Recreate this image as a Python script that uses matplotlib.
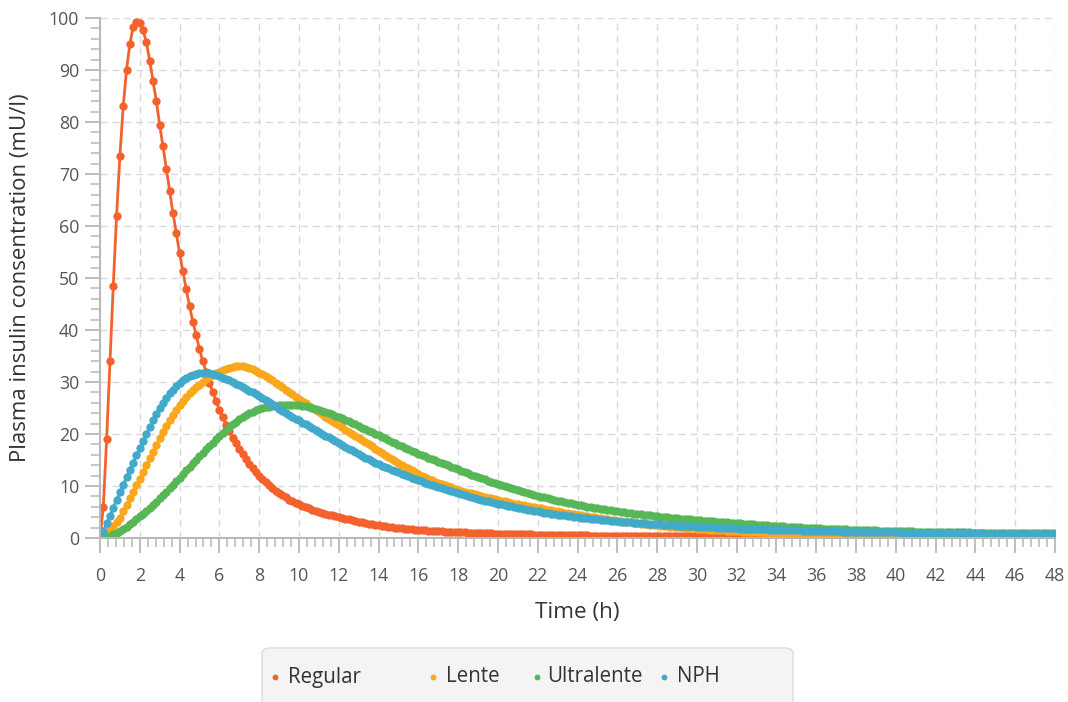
import numpy as np
import matplotlib.pyplot as plt
from matplotlib.patches import FancyBboxPatch
from matplotlib.lines import Line2D

plt.rcParams['font.family'] = ['Open Sans', 'DejaVu Sans']

# one sample every 10 minutes, 0 .. 48 h
hours = np.linspace(0, 48, 289)

# plasma insulin (mU/l), one row per hour (6 samples), last value at 48 h
regular = [
    0, 6.0, 19.0, 34.0, 48.5, 62.0,
    73.5, 83.0, 90.0, 95.0, 98.3, 99.3,
    99.0, 97.6, 95.3, 91.7, 87.9, 84.0,
    79.4, 75.3, 71.0, 66.8, 62.5, 58.6,
    54.8, 51.3, 47.8, 44.6, 41.6, 39.0,
    36.3, 34.0, 31.9, 29.9, 28.0, 26.3,
    24.7, 23.2, 21.8, 20.5, 19.3, 18.2,
    17.1, 16.1, 15.2, 14.3, 13.5, 12.7,
    12.0, 11.3, 10.7, 10.1, 9.6, 9.1,
    8.6, 8.2, 7.8, 7.4, 7.1, 6.8,
    6.5, 6.2, 5.95, 5.7, 5.45, 5.25,
    5.05, 4.85, 4.65, 4.5, 4.35, 4.2,
    4.05, 3.88, 3.72, 3.56, 3.41, 3.27,
    3.13, 3.0, 2.88, 2.76, 2.65, 2.54,
    2.44, 2.34, 2.24, 2.15, 2.06, 1.98,
    1.9, 1.83, 1.76, 1.7, 1.64, 1.59,
    1.54, 1.49, 1.45, 1.41, 1.37, 1.33,
    1.3, 1.26, 1.23, 1.2, 1.17, 1.14,
    1.11, 1.08, 1.06, 1.03, 1.01, 0.98,
    0.96, 0.94, 0.92, 0.9, 0.88, 0.86,
    0.84, 0.82, 0.8, 0.79, 0.77, 0.75,
    0.74, 0.72, 0.71, 0.69, 0.68, 0.67,
    0.65, 0.64, 0.63, 0.62, 0.6, 0.59,
    0.58, 0.57, 0.56, 0.55, 0.54, 0.53,
    0.52, 0.51, 0.5, 0.49, 0.48, 0.47,
    0.47, 0.46, 0.45, 0.44, 0.44, 0.43,
    0.42, 0.42, 0.41, 0.4, 0.4, 0.39,
    0.38, 0.38, 0.37, 0.37, 0.36, 0.36,
    0.35, 0.35, 0.34, 0.34, 0.33, 0.33,
    0.32, 0.32, 0.31, 0.31, 0.3, 0.3,
    0.3, 0.29, 0.29, 0.28, 0.28, 0.28,
    0.27, 0.27, 0.26, 0.26, 0.26, 0.25,
    0.25, 0.25, 0.24, 0.24, 0.24, 0.23,
    0.23, 0.23, 0.22, 0.22, 0.22, 0.21,
    0.21, 0.21, 0.21, 0.2, 0.2, 0.2,
    0.19, 0.19, 0.19, 0.19, 0.18, 0.18,
    0.18, 0.18, 0.17, 0.17, 0.17, 0.17,
    0.16, 0.16, 0.16, 0.16, 0.15, 0.15,
    0.15, 0.15, 0.15, 0.14, 0.14, 0.14,
    0.14, 0.14, 0.13, 0.13, 0.13, 0.13,
    0.13, 0.12, 0.12, 0.12, 0.12, 0.12,
    0.12, 0.11, 0.11, 0.11, 0.11, 0.11,
    0.11, 0.1, 0.1, 0.1, 0.1, 0.1,
    0.1, 0.1, 0.1, 0.09, 0.09, 0.09,
    0.09, 0.09, 0.09, 0.09, 0.09, 0.09,
    0.09, 0.09, 0.08, 0.08, 0.08, 0.08,
    0.08, 0.08, 0.08, 0.08, 0.08, 0.08,
    0.08, 0.07, 0.07, 0.07, 0.07, 0.07,
    0.07,
]

lente = [
    0, 0.4, 1.0, 1.7, 2.4, 3.1,
    3.8, 5.1, 6.4, 7.7, 8.9, 10.2,
    11.4, 12.7, 14.0, 15.3, 16.6, 17.9,
    19.2, 20.45, 21.6, 22.7, 23.75, 24.7,
    25.6, 26.4, 27.1, 27.8, 28.4, 29.0,
    29.5, 30.0, 30.5, 30.95, 31.35, 31.7,
    32.0, 32.3, 32.55, 32.75, 32.9, 33.0,
    33.05, 33.0, 32.9, 32.7, 32.45, 32.2,
    31.8, 31.45, 31.1, 30.7, 30.3, 29.85,
    29.4, 28.95, 28.5, 28.05, 27.6, 27.15,
    26.7, 26.3, 25.9, 25.45, 25.05, 24.6,
    24.2, 23.8, 23.35, 22.95, 22.5, 22.1,
    21.7, 21.3, 20.85, 20.45, 20.0, 19.6,
    19.2, 18.8, 18.4, 18.0, 17.6, 17.2,
    16.8, 16.4, 16.0, 15.6, 15.25, 14.85,
    14.5, 14.1, 13.75, 13.4, 13.0, 12.65,
    12.3, 12.0, 11.7, 11.4, 11.1, 10.85,
    10.6, 10.38, 10.16, 9.94, 9.72, 9.51,
    9.3, 9.11, 8.92, 8.74, 8.56, 8.38,
    8.2, 8.05, 7.9, 7.75, 7.6, 7.45,
    7.3, 7.16, 7.02, 6.89, 6.76, 6.63,
    6.5, 6.38, 6.26, 6.14, 6.02, 5.91,
    5.8, 5.68, 5.56, 5.44, 5.33, 5.21,
    5.1, 4.99, 4.88, 4.77, 4.66, 4.55,
    4.45, 4.35, 4.25, 4.15, 4.05, 3.95,
    3.85, 3.76, 3.66, 3.57, 3.48, 3.39,
    3.3, 3.22, 3.14, 3.07, 2.99, 2.92,
    2.85, 2.78, 2.71, 2.64, 2.58, 2.51,
    2.45, 2.39, 2.33, 2.27, 2.21, 2.16,
    2.1, 2.05, 2.0, 1.95, 1.9, 1.85,
    1.8, 1.75, 1.71, 1.66, 1.62, 1.57,
    1.53, 1.49, 1.45, 1.41, 1.37, 1.34,
    1.3, 1.27, 1.23, 1.2, 1.17, 1.13,
    1.1, 1.07, 1.04, 1.01, 0.98, 0.96,
    0.93, 0.91, 0.88, 0.86, 0.84, 0.81,
    0.79, 0.77, 0.75, 0.73, 0.71, 0.69,
    0.67, 0.65, 0.64, 0.62, 0.6, 0.59,
    0.57, 0.56, 0.54, 0.53, 0.51, 0.5,
    0.49, 0.48, 0.46, 0.45, 0.44, 0.43,
    0.42, 0.41, 0.4, 0.39, 0.38, 0.37,
    0.36, 0.35, 0.35, 0.34, 0.33, 0.32,
    0.32, 0.31, 0.3, 0.3, 0.29, 0.29,
    0.28, 0.27, 0.27, 0.26, 0.26, 0.25,
    0.25, 0.24, 0.24, 0.23, 0.23, 0.22,
    0.22, 0.22, 0.21, 0.21, 0.21, 0.2,
    0.2, 0.2, 0.19, 0.19, 0.19, 0.18,
    0.18, 0.18, 0.17, 0.17, 0.17, 0.17,
    0.16, 0.16, 0.16, 0.16, 0.15, 0.15,
    0.15,
]

ultralente = [
    0, 0.12, 0.25, 0.45, 0.7, 1.0,
    1.35, 1.75, 2.15, 2.6, 3.1, 3.6,
    4.15, 4.7, 5.25, 5.8, 6.4, 7.0,
    7.6, 8.25, 8.9, 9.55, 10.25, 10.9,
    11.6, 12.3, 13.0, 13.65, 14.35, 15.05,
    15.7, 16.4, 17.05, 17.7, 18.35, 19.0,
    19.6, 20.2, 20.75, 21.3, 21.85, 22.35,
    22.85, 23.25, 23.65, 24.0, 24.3, 24.55,
    24.8, 24.95, 25.1, 25.25, 25.35, 25.45,
    25.5, 25.55, 25.6, 25.6, 25.6, 25.58,
    25.55, 25.45, 25.35, 25.2, 25.05, 24.9,
    24.7, 24.5, 24.3, 24.05, 23.8, 23.55,
    23.3, 23.05, 22.75, 22.45, 22.15, 21.85,
    21.55, 21.25, 20.95, 20.65, 20.35, 20.05,
    19.75, 19.45, 19.15, 18.85, 18.55, 18.25,
    17.95, 17.65, 17.35, 17.05, 16.75, 16.45,
    16.2, 15.95, 15.7, 15.45, 15.2, 14.95,
    14.7, 14.45, 14.2, 13.95, 13.7, 13.45,
    13.2, 12.95, 12.7, 12.45, 12.2, 11.95,
    11.7, 11.48, 11.26, 11.04, 10.82, 10.6,
    10.4, 10.2, 10.0, 9.8, 9.6, 9.4,
    9.2, 9.02, 8.84, 8.66, 8.48, 8.29,
    8.1, 7.95, 7.8, 7.65, 7.5, 7.35,
    7.2, 7.07, 6.93, 6.8, 6.67, 6.53,
    6.4, 6.28, 6.17, 6.05, 5.93, 5.82,
    5.7, 5.6, 5.5, 5.4, 5.3, 5.2,
    5.1, 5.02, 4.93, 4.85, 4.77, 4.68,
    4.6, 4.53, 4.47, 4.4, 4.33, 4.27,
    4.2, 4.13, 4.07, 4.0, 3.93, 3.87,
    3.8, 3.74, 3.68, 3.63, 3.57, 3.51,
    3.45, 3.4, 3.35, 3.3, 3.25, 3.2,
    3.15, 3.1, 3.05, 3.0, 2.95, 2.9,
    2.85, 2.8, 2.75, 2.7, 2.65, 2.6,
    2.55, 2.51, 2.47, 2.43, 2.38, 2.34,
    2.3, 2.26, 2.22, 2.18, 2.15, 2.11,
    2.07, 2.04, 2.0, 1.97, 1.94, 1.9,
    1.87, 1.84, 1.82, 1.79, 1.77, 1.74,
    1.72, 1.7, 1.67, 1.65, 1.63, 1.6,
    1.58, 1.56, 1.54, 1.52, 1.49, 1.47,
    1.45, 1.43, 1.41, 1.39, 1.38, 1.36,
    1.34, 1.32, 1.31, 1.29, 1.28, 1.26,
    1.25, 1.24, 1.22, 1.21, 1.2, 1.18,
    1.17, 1.16, 1.15, 1.14, 1.12, 1.11,
    1.1, 1.09, 1.08, 1.07, 1.06, 1.05,
    1.04, 1.03, 1.02, 1.02, 1.01, 1.0,
    0.99, 0.98, 0.98, 0.97, 0.96, 0.96,
    0.95, 0.94, 0.94, 0.93, 0.93, 0.92,
    0.92, 0.91, 0.91, 0.9, 0.9, 0.89,
    0.89,
]

nph = [
    0, 1.3, 2.8, 4.3, 5.8, 7.3,
    8.8, 10.2, 11.7, 13.1, 14.5, 15.9,
    17.3, 18.7, 20.0, 21.3, 22.6, 23.8,
    24.95, 26.0, 26.95, 27.8, 28.55, 29.2,
    29.8, 30.3, 30.75, 31.1, 31.4, 31.6,
    31.75, 31.8, 31.8, 31.7, 31.55, 31.35,
    31.1, 30.85, 30.6, 30.3, 30.0, 29.7,
    29.4, 29.05, 28.7, 28.35, 28.0, 27.65,
    27.3, 26.9, 26.5, 26.1, 25.7, 25.3,
    24.9, 24.5, 24.1, 23.7, 23.3, 22.95,
    22.6, 22.2, 21.85, 21.5, 21.1, 20.75,
    20.4, 20.05, 19.7, 19.35, 19.0, 18.65,
    18.3, 17.93, 17.56, 17.2, 16.83, 16.46,
    16.1, 15.78, 15.46, 15.14, 14.82, 14.5,
    14.2, 13.92, 13.65, 13.38, 13.11, 12.85,
    12.6, 12.34, 12.09, 11.84, 11.59, 11.34,
    11.1, 10.88, 10.66, 10.44, 10.22, 10.01,
    9.8, 9.6, 9.4, 9.2, 9.0, 8.8,
    8.6, 8.42, 8.23, 8.05, 7.87, 7.69,
    7.5, 7.35, 7.2, 7.05, 6.9, 6.75,
    6.6, 6.47, 6.33, 6.2, 6.06, 5.93,
    5.8, 5.68, 5.56, 5.45, 5.33, 5.22,
    5.1, 5.0, 4.9, 4.8, 4.7, 4.6,
    4.5, 4.42, 4.33, 4.25, 4.17, 4.08,
    4.0, 3.93, 3.87, 3.8, 3.73, 3.67,
    3.6, 3.53, 3.47, 3.4, 3.33, 3.27,
    3.2, 3.15, 3.1, 3.05, 3.0, 2.95,
    2.9, 2.86, 2.82, 2.77, 2.73, 2.69,
    2.65, 2.61, 2.57, 2.52, 2.48, 2.44,
    2.4, 2.37, 2.33, 2.3, 2.27, 2.23,
    2.2, 2.17, 2.13, 2.1, 2.07, 2.03,
    2.0, 1.98, 1.95, 1.93, 1.9, 1.88,
    1.85, 1.82, 1.8, 1.77, 1.75, 1.72,
    1.7, 1.68, 1.66, 1.64, 1.62, 1.6,
    1.58, 1.56, 1.54, 1.52, 1.51, 1.49,
    1.47, 1.45, 1.44, 1.42, 1.4, 1.39,
    1.37, 1.36, 1.34, 1.33, 1.31, 1.3,
    1.28, 1.27, 1.25, 1.24, 1.23, 1.21,
    1.2, 1.19, 1.18, 1.16, 1.15, 1.14,
    1.13, 1.12, 1.11, 1.1, 1.09, 1.08,
    1.07, 1.06, 1.05, 1.04, 1.03, 1.02,
    1.01, 1.0, 0.99, 0.98, 0.98, 0.97,
    0.96, 0.95, 0.95, 0.94, 0.93, 0.93,
    0.92, 0.91, 0.91, 0.9, 0.89, 0.89,
    0.88, 0.87, 0.87, 0.86, 0.86, 0.85,
    0.85, 0.84, 0.84, 0.83, 0.83, 0.82,
    0.82, 0.81, 0.81, 0.8, 0.8, 0.79,
    0.79, 0.78, 0.78, 0.77, 0.77, 0.76,
    0.76,
]

names = ["Regular", "Lente", "Ultralente", "NPH"]
colors = ["#f3622d", "#fba71b", "#57b757", "#41a9c9"]

fig = plt.figure(figsize=(10.68, 7.02), dpi=100)
ax = fig.add_axes([100 / 1068, 1 - 538 / 702, 955 / 1068, 520 / 702])

for name, vals, col in zip(names, [regular, lente, ultralente, nph], colors):
    ax.plot(hours, vals, color=col, lw=2.0, marker='o', ms=6, mew=0,
            label=name)

ax.set_xlim(0, 48)
ax.set_ylim(0, 100)
ax.set_xticks(np.arange(0, 49, 2))
ax.set_xticks(np.arange(0, 48.01, 0.4), minor=True)
ax.set_yticks(np.arange(0, 101, 10))
ax.set_yticks(np.arange(0, 101, 2), minor=True)

axis_grey = '#b8b8b8'
for side in ['top', 'right']:
    ax.spines[side].set_visible(False)
for side in ['left', 'bottom']:
    ax.spines[side].set_color(axis_grey)
    ax.spines[side].set_linewidth(1.4)

ax.tick_params(which='major', length=11, width=1.3, color=axis_grey,
               labelsize=12.8, labelcolor='#555555')
ax.tick_params(which='minor', length=6.5, width=1.1, color=axis_grey)
ax.tick_params(axis='x', which='major', pad=10)
ax.tick_params(axis='y', which='major', pad=4)

ax.grid(True, which='major', color='#d9d9d9', lw=1.0,
        linestyle=(0, (5, 3.5)))
ax.set_axisbelow(True)

ax.set_xlabel("Time (h)", fontsize=16.2, color='#333333', labelpad=12)
ax.set_ylabel("Plasma insulin consentration (mU/l)", fontsize=16,
              color='#333333')
ax.yaxis.set_label_coords(-0.072, 0.5)

# legend box at the bottom, laid out like the original
box = FancyBboxPatch((262 / 1068, -0.01), (793 - 262) / 1068, 0.087,
                     boxstyle="round,pad=0,rounding_size=0.008",
                     transform=fig.transFigure, facecolor='#f4f4f4',
                     edgecolor='#dcdcdc', lw=1.0)
fig.add_artist(box)
dot_x = [275, 433, 537, 664]
text_x = [288, 446, 547, 677]
ly = 1 - 677 / 702
for name, col, dx, tx in zip(names, colors, dot_x, text_x):
    fig.add_artist(Line2D([dx / 1068], [ly], marker='o', ms=4.2, mew=0,
                          color=col, transform=fig.transFigure))
    fig.text(tx / 1068, ly, name, fontsize=14.8, color='#333333',
             va='center', ha='left')

fig.savefig("out.png", dpi=100)
